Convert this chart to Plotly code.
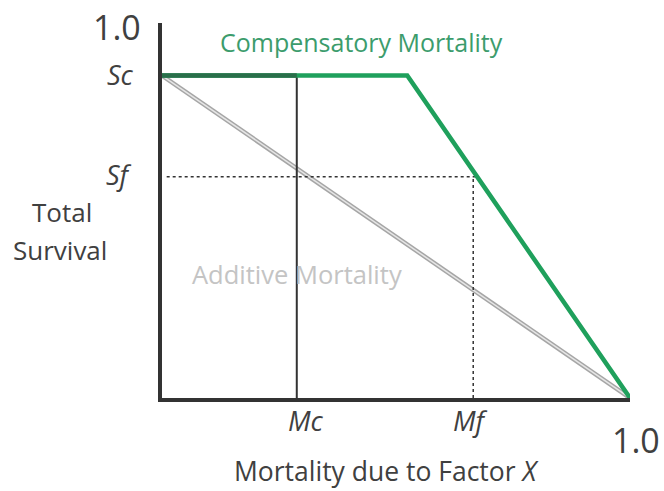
import plotly.graph_objects as go

# --- data ---
Sc = 0.86          # survival under compensatory regime
Sf = 0.59          # survival at Mf
Mc = 0.288         # compensation threshold mortality
Mf = 0.665         # mortality due to factor
M_break = 0.524    # where compensatory line starts to fall

comp_x = [0.0, M_break, 1.0]
comp_y = [Sc, Sc, 0.0]
add_x = [0.0, 1.0]
add_y = [Sc, 0.0]

FONT = "Open Sans"
TXT = "#404040"
GREEN = "#1fa05c"

fig = go.Figure()

# additive mortality line (grey double-look)
fig.add_trace(go.Scatter(x=add_x, y=add_y, mode="lines",
                         line=dict(color="#a6a6a6", width=4.5), hoverinfo="skip"))
fig.add_trace(go.Scatter(x=add_x, y=add_y, mode="lines",
                         line=dict(color="#e6e6e6", width=1.5), hoverinfo="skip"))

# Mc vertical line
fig.add_trace(go.Scatter(x=[Mc, Mc], y=[0, Sc], mode="lines",
                         line=dict(color="#333333", width=2), hoverinfo="skip"))

# dotted Sf / Mf guides
fig.add_trace(go.Scatter(x=[0.01, Mf + 0.01], y=[Sf, Sf], mode="lines",
                         line=dict(color="#333333", width=1.5, dash="dot"), hoverinfo="skip"))
fig.add_trace(go.Scatter(x=[Mf, Mf], y=[0, Sf], mode="lines",
                         line=dict(color="#333333", width=1.5, dash="dot"), hoverinfo="skip"))

# compensatory mortality line
fig.add_trace(go.Scatter(x=comp_x, y=comp_y, mode="lines",
                         line=dict(color=GREEN, width=4.5), hoverinfo="skip"))
# darker initial part of the plateau
fig.add_trace(go.Scatter(x=[0.0, Mc], y=[Sc, Sc], mode="lines",
                         line=dict(color="#2a6e4a", width=4.5), hoverinfo="skip"))

for tr in fig.data:
    tr.cliponaxis = False

ann = []
def A(text, x, y, size, color=TXT, xanchor="center", yanchor="middle", **kw):
    ann.append(dict(text=text, x=x, y=y, xref="paper", yref="paper", showarrow=False,
                    xanchor=xanchor, yanchor=yanchor,
                    font=dict(family=FONT, size=size, color=color), **kw))

A("1.0", -0.0406, 0.99, 34, xanchor="right")
A("<i>Sc</i>", -0.0556, 0.864, 27, xanchor="right")
A("<i>Sf</i>", -0.06, 0.597, 27, xanchor="right")
A("Total", -0.214, 0.496, 26)
A("Survival", -0.218, 0.395, 26)
A("<i>Mc</i>", 0.308, -0.061, 27)
A("<i>Mf</i>", 0.660, -0.061, 27)
A("1.0", 0.957, -0.112, 34, xanchor="left")
A("Mortality due to Factor <i>X</i>", 0.479, -0.247, 26.5, yanchor="bottom")
A("Compensatory Mortality", 0.427, 0.949, 25, color="#3c9c6c")
A("Additive Mortality", 0.289, 0.33, 25.5, color="#c4c4c4")

fig.update_layout(
    width=664, height=491,
    margin=dict(l=162, r=34, t=23, b=93),
    paper_bgcolor="white", plot_bgcolor="white",
    showlegend=False,
    annotations=ann,
    xaxis=dict(range=[0, 1], showgrid=False, zeroline=False, showticklabels=False,
               ticks="", showline=True, linecolor="#333333", linewidth=4, fixedrange=True),
    yaxis=dict(range=[0, 1], showgrid=False, zeroline=False, showticklabels=False,
               ticks="", showline=True, linecolor="#333333", linewidth=4, fixedrange=True),
)

fig.write_html("out.html", config={"displayModeBar": False},
               post_script="document.body.style.margin='0';document.body.style.overflow='hidden';")
